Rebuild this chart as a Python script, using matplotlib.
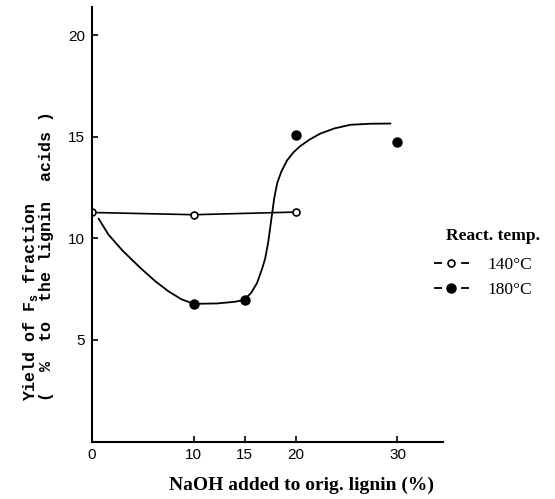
import matplotlib
matplotlib.use('Agg')
import matplotlib.pyplot as plt
from matplotlib.lines import Line2D

# data
naoh_140 = [0, 10, 20]
yield_140 = [11.28, 11.17, 11.3]

naoh_180 = [10, 15, 20, 30]
yield_180 = [6.78, 6.95, 15.12, 14.76]

# hand drawn trend curve for 180 C (traced points)
curve_x = [0.66, 1.6, 3.0, 4.75, 6.2, 7.5, 8.8, 10.0, 12.3, 14.0, 14.9, 15.6,
           16.2, 16.7, 17.0, 17.3, 17.6, 17.9, 18.2, 18.6, 19.15, 19.8, 20.45,
           21.4, 22.4, 23.8, 25.4, 27.3, 29.3]
curve_y = [10.97, 10.2, 9.4, 8.55, 7.9, 7.4, 7.0, 6.78, 6.8, 6.88, 6.97, 7.3,
           7.8, 8.5, 9.0, 9.8, 10.9, 12.0, 12.75, 13.3, 13.84, 14.25, 14.55,
           14.88, 15.16, 15.42, 15.6, 15.65, 15.66]

x_ticks = [0, 10, 15, 20, 30]
y_ticks = [5, 10, 15, 20]
legend_labels = ['140°C', '180°C']

plt.rcParams['lines.scale_dashes'] = False
plt.rcParams['mathtext.fontset'] = 'custom'
plt.rcParams['mathtext.rm'] = 'Liberation Mono:bold'

W, H = 555, 499
fig = plt.figure(figsize=(W / 100, H / 100), dpi=100)
ax = fig.add_axes([92 / W, 1 - 441.5 / H, (443.3 - 92) / W, (441.5 - 7) / H])

ax.plot(naoh_140, yield_140, color='black', lw=1.2, marker='o', ms=5,
        mfc='white', mec='black', mew=1.2)
ax.plot(curve_x, curve_y, color='black', lw=1.3, solid_joinstyle='round')
ax.plot(naoh_180, yield_180, linestyle='none', marker='o', ms=6.5, color='black')

ax.set_xlim(0, 34.5)
ax.set_ylim(0, 21.4)
ax.set_xticks(x_ticks)
ax.set_yticks(y_ticks)
for s in ['top', 'right']:
    ax.spines[s].set_visible(False)
for s in ['left', 'bottom']:
    ax.spines[s].set_linewidth(1.5)
ax.tick_params(direction='in', length=4, width=1.2, labelsize=11, pad=5)
for lab in ax.get_xticklabels() + ax.get_yticklabels():
    lab.set_fontfamily('Liberation Sans')

ax.set_xlabel('NaOH added to orig. lignin (%)', fontfamily='Liberation Serif',
              fontweight='bold', fontsize=14, va='center')
ax.xaxis.set_label_coords(0.597, -0.1)

fig.text(37.5 / W, 1 - 401 / H, 'Yield of F$_\\mathrm{s}$ fraction\n(  %  to  the lignin  acids )',
         rotation=90, ha='center', va='bottom', multialignment='left',
         fontfamily='Liberation Mono', fontweight='bold', fontsize=12, linespacing=0.95)

handles = [
    Line2D([], [], color='black', lw=1.3, linestyle=(0, (5.8, 13.7)), marker='o',
           ms=5, mfc='white', mec='black', mew=1.2),
    Line2D([], [], color='black', lw=1.3, linestyle=(0, (5.8, 13.7)), marker='o',
           ms=6.5, mfc='black', mec='black'),
]
fig.legend(handles, legend_labels, loc='upper left',
           bbox_to_anchor=(425 / W, 1 - 248 / H), frameon=False, borderpad=0,
           handlelength=2.02, handletextpad=1.1, labelspacing=0.53, numpoints=1,
           prop={'family': 'Liberation Serif', 'size': 12.5})
fig.text(446 / W, 1 - 236 / H, 'React. temp.', ha='left', va='center',
         fontfamily='Liberation Serif', fontweight='bold', fontsize=12.5)

fig.savefig('out.png', dpi=100)
